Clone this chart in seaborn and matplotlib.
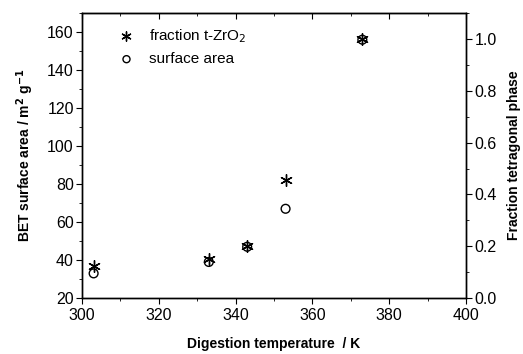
import matplotlib
matplotlib.use("Agg")
import matplotlib.pyplot as plt
import seaborn as sns
import pandas as pd
from matplotlib.ticker import MultipleLocator

temperature = [303, 333, 343, 353, 373]
surface_area = [33, 39, 47, 67, 156]
fraction_t = [0.125, 0.152, 0.2, 0.455, 1.0]

sns.set_style("ticks")
plt.rcParams['font.family'] = ['Liberation Sans', 'DejaVu Sans']
plt.rcParams['text.color'] = 'black'
plt.rcParams['axes.labelcolor'] = 'black'
plt.rcParams['xtick.color'] = 'black'
plt.rcParams['ytick.color'] = 'black'
plt.rcParams['axes.edgecolor'] = 'black'

fig = plt.figure(figsize=(5.23, 3.54), dpi=100)
ax = fig.add_axes([0.157, 0.158, 0.734, 0.805])
ax2 = ax.twinx()

df = pd.DataFrame({"T": temperature, "S": surface_area, "F": fraction_t})

sns.scatterplot(data=df, x="T", y="F", ax=ax2, marker=(6, 2, 0), s=70,
                color="black", linewidth=1.0, label="fraction t-ZrO$_2$", legend=False)
sns.scatterplot(data=df, x="T", y="S", ax=ax, marker="o", s=40,
                facecolor="none", edgecolor="black", linewidth=1.0, label="surface area", legend=False)

ax.set_xlim(300, 400)
ax.set_ylim(20, 170)
ax2.set_ylim(0, 1.1)
ax.xaxis.set_major_locator(MultipleLocator(20))
ax.xaxis.set_minor_locator(MultipleLocator(10))
ax.yaxis.set_major_locator(MultipleLocator(20))
ax.yaxis.set_minor_locator(MultipleLocator(10))
ax2.yaxis.set_major_locator(MultipleLocator(0.2))
ax2.yaxis.set_minor_locator(MultipleLocator(0.1))

for a in (ax, ax2):
    for sp in a.spines.values():
        sp.set_visible(True)
        sp.set_linewidth(1.0)
        sp.set_color("black")

fs = 11.5
ax.tick_params(axis="x", which="both", direction="out", bottom=True, top=False, labelsize=fs, pad=3)
ax.tick_params(axis="y", which="both", direction="out", left=True, labelsize=fs, pad=2)
ax.tick_params(which="major", length=4)
ax.tick_params(which="minor", length=2.5)
ax2.tick_params(axis="y", which="major", direction="out", length=4, labelsize=fs, pad=2)
ax2.tick_params(axis="y", which="minor", direction="out", length=2.5)

# top ticks inward
secx = ax.secondary_xaxis("top")
secx.xaxis.set_major_locator(MultipleLocator(20))
secx.xaxis.set_minor_locator(MultipleLocator(10))
secx.tick_params(which="both", direction="in", labeltop=False)
secx.tick_params(which="major", length=4)
secx.tick_params(which="minor", length=2.5)

ax.set_yticklabels([f"{int(v)}" for v in ax.get_yticks()])
ax2.set_yticklabels([f"{v:.1f}" for v in ax2.get_yticks()])

ax.set_xlabel("Digestion temperature  / K", fontsize=10, fontweight="bold", labelpad=10)
ax.set_ylabel("BET surface area / m$^\\mathbf{2}$ g$^\\mathbf{-1}$", fontsize=10, fontweight="bold")
ax2.set_ylabel("Fraction tetragonal phase", fontsize=10, fontweight="bold")
ax.yaxis.set_label_coords(-0.12, 0.5)
ax2.yaxis.set_label_coords(1.108, 0.5)

h1, l1 = ax2.get_legend_handles_labels()
h2, l2 = ax.get_legend_handles_labels()
ax.legend(h1 + h2, l1 + l2, loc="upper left", frameon=False, fontsize=11,
          handletextpad=0.5, borderaxespad=0.5, markerscale=0.8,
          labelspacing=0.5, bbox_to_anchor=(0.04, 1.0))

ax.set_zorder(ax2.get_zorder() + 1)
ax.patch.set_visible(False)

fig.savefig("out.png", dpi=100)
